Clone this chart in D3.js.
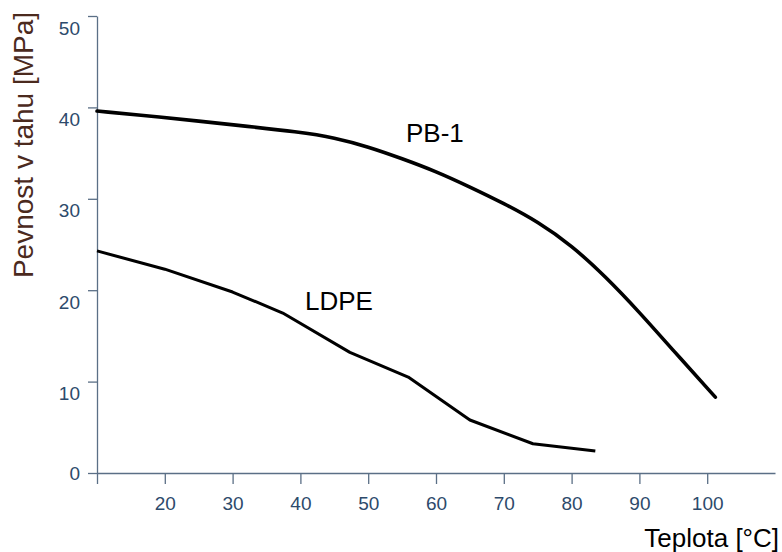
<!DOCTYPE html>
<meta charset="utf-8">
<script src="https://d3js.org/d3.v7.min.js"></script>
<body style="margin:0;background:#fff">
<div id="my_dataviz"></div>
<script>

// data: [teplota °C, pevnost MPa]
var pb1 = [[10, 39.6], [20, 38.9], [25, 38.5], [30, 38.1], [40, 37.3], [45, 36.7],
  [50, 35.7], [55, 34.4], [60, 33.0], [65, 31.3], [70, 29.5], [75, 27.5],
  [80, 24.9], [85, 21.5], [90, 17.6], [95, 13.4], [101.2, 8.3]];
var ldpe = [[10, 24.3], [20, 22.3], [30, 19.8], [37.4, 17.5], [47.3, 13.2],
  [55.9, 10.5], [65, 5.8], [74.3, 3.2], [83.5, 2.4]];
var xTicks = [10, 20, 30, 40, 50, 60, 70, 80, 90, 100];
var yTicks = [0, 10, 20, 30, 40, 50];

var width = 782, height = 552;
var font = "'Liberation Sans', Arial, sans-serif";

var svg = d3.select("#my_dataviz")
  .append("svg")
  .attr("width", width)
  .attr("height", height);

var x = d3.scaleLinear().domain([10, 110]).range([97, 775]);
var y = d3.scaleLinear().domain([0, 50]).range([473, 16]);

// X axis
var gx = svg.append("g")
  .attr("transform", "translate(0," + y(0) + ")")
  .call(d3.axisBottom(x).tickValues(xTicks).tickSize(11).tickSizeOuter(0)
    .tickFormat(function(d) { return d == 10 ? "" : d; }));

// Y axis
var gy = svg.append("g")
  .attr("transform", "translate(" + x(10) + ",0)")
  .call(d3.axisLeft(y).tickValues(yTicks).tickSize(9).tickSizeOuter(0));

[gx, gy].forEach(function(g) {
  g.selectAll(".domain, line").attr("stroke", "#5b6f86").attr("stroke-width", 1.3);
  g.selectAll("text")
    .attr("fill", "#2d4a6b")
    .style("font-family", font)
    .style("font-size", "19px");
});
gx.selectAll("text").attr("y", 0).attr("dy", "32px").attr("dominant-baseline", "middle");
gy.selectAll("text")
  .attr("x", -17)
  .attr("dy", function(d) { return d == 0 ? "0.35em" : "0.95em"; });

// lines
var line = d3.line()
  .x(function(d) { return x(d[0]); })
  .y(function(d) { return y(d[1]); });

svg.append("path")
  .datum(pb1)
  .attr("fill", "none")
  .attr("stroke", "#000")
  .attr("stroke-width", 3.6)
  .attr("stroke-linecap", "round")
  .attr("d", line.curve(d3.curveBasis));

svg.append("path")
  .datum(ldpe)
  .attr("fill", "none")
  .attr("stroke", "#000")
  .attr("stroke-width", 3)
  .attr("stroke-linejoin", "round")
  .attr("d", line.curve(d3.curveLinear));

// series labels
svg.append("text").text("PB-1")
  .attr("x", 406).attr("y", 142)
  .style("font-family", font).style("font-size", "26px").attr("fill", "#000");
svg.append("text").text("LDPE")
  .attr("x", 305).attr("y", 310)
  .style("font-family", font).style("font-size", "26px").attr("fill", "#000");

// axis titles
svg.append("text").text("Teplota [°C]")
  .attr("x", 779).attr("y", 547)
  .attr("text-anchor", "end")
  .style("font-family", font).style("font-size", "26px").attr("fill", "#000");

svg.append("text").text("Pevnost v tahu [MPa]")
  .attr("transform", "translate(33,145) rotate(-90)")
  .attr("text-anchor", "middle")
  .style("font-family", font).style("font-size", "28px").attr("fill", "#4b2a1e");

</script>
</body>
